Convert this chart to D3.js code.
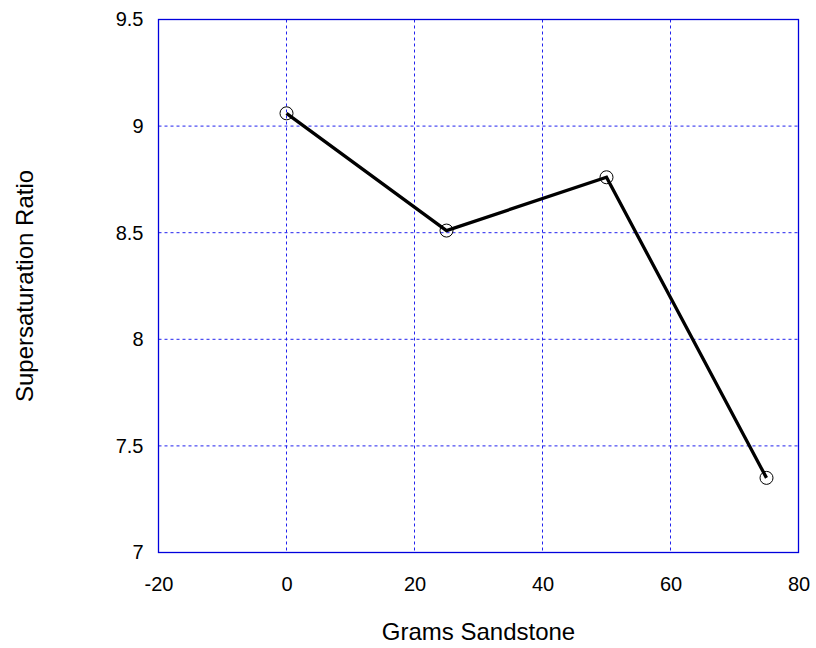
<!DOCTYPE html>
<html>
<head>
<meta charset="utf-8">
<script src="https://cdn.jsdelivr.net/npm/d3@7"></script>
<style>
  html, body { margin: 0; padding: 0; background: #fff; }
  svg { display: block; font-family: "Liberation Sans", Arial, sans-serif; }
</style>
</head>
<body>
<svg id="chart" width="816" height="648"></svg>
<script>
// Grams of sandstone added vs. measured supersaturation ratio
const grams = [0, 25, 50, 75];
const ratio = [9.06, 8.51, 8.76, 7.35];
const xTicks = [-20, 0, 20, 40, 60, 80];
const yTicks = [7, 7.5, 8, 8.5, 9, 9.5];
const xTitle = "Grams Sandstone";
const yTitle = "Supersaturation Ratio";

const svg = d3.select("#chart");
const m = { left: 158.5, right: 798.5, top: 19.5, bottom: 552.5 };

const x = d3.scaleLinear().domain([-20, 80]).range([m.left, m.right]);
const y = d3.scaleLinear().domain([7, 9.5]).range([m.bottom, m.top]);

const grid = "#2222ee";

// dashed grid lines
svg.append("g").selectAll("line").data(xTicks.slice(1, -1)).join("line")
  .attr("x1", d => x(d)).attr("x2", d => x(d))
  .attr("y1", m.top).attr("y2", m.bottom)
  .attr("stroke", grid).attr("stroke-width", 1).attr("stroke-dasharray", "3,3");
svg.append("g").selectAll("line").data(yTicks.slice(1, -1)).join("line")
  .attr("x1", m.left).attr("x2", m.right)
  .attr("y1", d => y(d)).attr("y2", d => y(d))
  .attr("stroke", grid).attr("stroke-width", 1).attr("stroke-dasharray", "3,3");

// axes
const xAxis = svg.append("g").attr("transform", `translate(0,${m.bottom})`)
  .call(d3.axisBottom(x).tickValues(xTicks).tickSize(0).tickPadding(24).tickFormat(d => String(d)));
const yAxis = svg.append("g").attr("transform", `translate(${m.left},0)`)
  .call(d3.axisLeft(y).tickValues(yTicks).tickSize(0).tickPadding(15).tickFormat(d => String(d)));
[xAxis, yAxis].forEach(a => {
  a.select(".domain").remove();
  a.selectAll("text").attr("font-size", 20).attr("fill", "#000")
    .attr("font-family", "'Liberation Sans', Arial, sans-serif");
});

// plot frame
svg.append("rect")
  .attr("x", m.left).attr("y", m.top)
  .attr("width", m.right - m.left).attr("height", m.bottom - m.top)
  .attr("fill", "none").attr("stroke", "#0000dd").attr("stroke-width", 1.3);

// data line and markers
const pts = grams.map((g, i) => [g, ratio[i]]);
svg.append("path").datum(pts)
  .attr("d", d3.line().x(d => x(d[0])).y(d => y(d[1])))
  .attr("fill", "none").attr("stroke", "#000").attr("stroke-width", 3.3)
  .attr("stroke-linejoin", "miter");
svg.append("g").selectAll("circle").data(pts).join("circle")
  .attr("cx", d => x(d[0])).attr("cy", d => y(d[1])).attr("r", 6.5)
  .attr("fill", "none").attr("stroke", "#000").attr("stroke-width", 1);

// titles
svg.append("text").attr("x", (m.left + m.right) / 2).attr("y", 640)
  .attr("text-anchor", "middle").attr("font-size", 24).text(xTitle);
svg.append("text")
  .attr("transform", `translate(33,${(m.top + m.bottom) / 2}) rotate(-90)`)
  .attr("text-anchor", "middle").attr("font-size", 24).text(yTitle);
</script>
</body>
</html>
